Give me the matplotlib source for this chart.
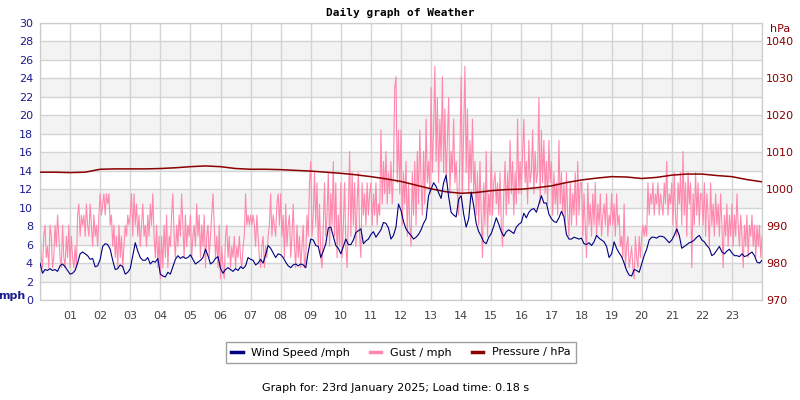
import numpy as np
import matplotlib
matplotlib.use('Agg')
from matplotlib import pyplot as plt
from matplotlib.lines import Line2D

# wind speed, mph, every 5 minutes from 00:00 to 24:00 (one row per hour)
wind = [4.0, 2.9, 3.3, 3.2, 3.4, 3.2, 3.3, 3.1, 3.7, 3.9, 3.6, 3.2,
        2.8, 2.9, 3.2, 4.0, 5.0, 5.2, 5.0, 4.8, 4.4, 4.5, 3.6, 3.7,
        4.4, 5.8, 6.1, 6.0, 5.5, 4.3, 3.3, 3.4, 3.8, 3.6, 2.8, 3.0,
        3.4, 4.8, 6.2, 5.3, 4.6, 4.3, 4.3, 4.6, 3.9, 4.2, 4.1, 4.5,
        2.8, 2.6, 2.5, 3.0, 2.8, 3.6, 4.4, 4.8, 4.5, 4.7, 4.5, 4.6,
        4.9, 4.4, 3.9, 4.1, 4.3, 4.6, 5.5, 4.8, 3.9, 4.1, 4.5, 4.7,
        3.4, 2.9, 3.3, 3.5, 3.3, 3.1, 3.4, 3.2, 3.6, 3.4, 3.7, 4.6,
        4.4, 4.3, 3.8, 4.0, 4.4, 4.0, 4.9, 5.9, 5.6, 5.1, 4.6, 5.0,
        4.9, 4.6, 4.1, 3.7, 3.5, 3.8, 3.9, 3.7, 3.9, 3.8, 3.5, 5.2,
        6.6, 6.5, 5.9, 5.8, 4.6, 5.3, 6.1, 7.8, 7.9, 6.9, 5.9, 5.6,
        5.0, 5.8, 6.6, 6.0, 6.0, 6.5, 7.3, 7.5, 7.7, 6.1, 6.4, 6.6,
        7.1, 7.4, 6.8, 7.2, 7.6, 8.4, 8.3, 7.8, 6.6, 7.0, 7.9, 10.4,
        9.7, 8.5, 7.7, 7.3, 7.0, 6.6, 6.8, 7.1, 7.6, 8.3, 8.8, 11.3,
        12.0, 12.7, 12.3, 11.6, 11.0, 12.7, 13.5, 11.2, 9.5, 9.2, 9.0, 10.9,
        11.3, 9.3, 7.9, 8.8, 11.7, 10.2, 8.3, 7.4, 6.9, 6.3, 6.1, 6.8,
        7.2, 8.0, 8.9, 8.2, 7.4, 6.9, 7.4, 7.6, 7.4, 7.2, 7.9, 8.2,
        8.4, 9.4, 8.9, 9.5, 9.8, 9.9, 9.5, 10.4, 11.3, 10.5, 10.5, 9.3,
        8.8, 8.5, 8.4, 8.9, 9.6, 9.0, 7.1, 6.6, 6.6, 6.8, 6.7, 6.6,
        6.7, 6.1, 6.0, 6.2, 5.9, 6.3, 7.0, 6.7, 6.5, 6.3, 5.8, 4.6,
        5.0, 6.3, 5.6, 5.1, 4.7, 4.0, 3.2, 2.7, 2.6, 3.3, 3.2, 3.0,
        3.9, 4.8, 5.5, 6.5, 6.8, 6.8, 6.7, 6.9, 6.9, 6.8, 6.5, 6.2,
        6.5, 7.0, 7.7, 7.0, 5.6, 5.8, 6.0, 6.2, 6.3, 6.5, 6.8, 7.0,
        6.5, 6.3, 5.9, 5.6, 4.8, 5.0, 5.4, 5.8, 5.2, 5.0, 5.3, 5.5,
        5.1, 4.8, 4.8, 4.7, 5.0, 4.7, 4.8, 5.0, 5.2, 4.8, 4.1, 4.0,
        4.3]

# gust, mph, every 2.5 minutes (one row per hour)
gust = [8.1, 4.6, 3.5, 6.9, 8.1, 4.6, 5.8, 3.5, 8.1, 6.9, 3.5, 4.6, 8.1, 5.8, 9.2, 6.9, 4.6, 3.5, 8.1, 4.6, 3.5, 6.9, 4.6, 8.1,
        3.5, 6.9, 4.6, 3.5, 5.8, 3.5, 9.2, 10.4, 6.9, 9.2, 8.1, 9.2, 6.9, 10.4, 8.1, 6.9, 10.4, 8.1, 5.8, 9.2, 6.9, 8.1, 5.8, 9.2,
        11.5, 9.2, 10.4, 11.5, 9.2, 11.5, 10.4, 11.5, 8.1, 9.2, 5.8, 8.1, 4.6, 6.9, 3.5, 8.1, 4.6, 6.9, 3.5, 5.8, 8.1, 6.9, 9.2, 8.1,
        9.2, 11.5, 6.9, 11.5, 8.1, 10.4, 6.9, 9.2, 5.8, 8.1, 10.4, 6.9, 8.1, 5.8, 9.2, 6.9, 10.4, 8.1, 11.5, 6.9, 4.6, 8.1, 3.5, 6.9,
        2.3, 6.9, 3.5, 8.1, 4.6, 9.2, 3.5, 6.9, 5.8, 9.2, 11.5, 6.9, 4.6, 8.1, 5.8, 9.2, 6.9, 11.5, 8.1, 4.6, 9.2, 5.8, 8.1, 6.9,
        9.2, 4.6, 6.9, 8.1, 5.8, 10.4, 6.9, 9.2, 4.6, 8.1, 5.8, 9.2, 3.5, 6.9, 8.1, 4.6, 6.9, 9.2, 11.5, 8.1, 4.6, 6.9, 3.5, 8.1,
        2.3, 5.8, 3.5, 2.3, 6.9, 8.1, 4.6, 6.9, 3.5, 5.8, 4.6, 6.9, 3.5, 5.8, 4.6, 6.9, 4.6, 3.5, 5.8, 6.9, 11.5, 8.1, 9.2, 8.1,
        9.2, 8.1, 9.2, 8.1, 5.8, 9.2, 6.9, 4.6, 3.5, 5.8, 6.9, 3.5, 5.8, 4.6, 6.9, 8.1, 11.5, 6.9, 9.2, 8.1, 6.9, 10.4, 11.5, 8.1,
        11.5, 6.9, 9.2, 4.6, 10.4, 5.8, 8.1, 9.2, 4.6, 6.9, 10.4, 5.8, 3.5, 8.1, 4.6, 6.9, 3.5, 5.8, 8.1, 3.5, 4.6, 9.2, 6.9, 12.7,
        15.0, 6.9, 9.2, 13.8, 8.1, 12.7, 5.8, 10.4, 4.6, 3.5, 8.1, 12.7, 6.9, 9.2, 13.8, 5.8, 11.5, 8.1, 15.0, 6.9, 12.7, 4.6, 9.2, 5.8,
        12.7, 4.6, 8.1, 12.7, 5.8, 3.5, 9.2, 16.1, 6.9, 13.8, 8.1, 12.7, 5.8, 10.4, 13.8, 6.9, 4.6, 12.7, 9.2, 11.5, 8.1, 12.7, 9.2, 11.5,
        12.7, 8.1, 11.5, 9.2, 12.7, 8.1, 10.4, 9.2, 18.4, 10.4, 15.0, 11.5, 16.1, 10.4, 13.8, 11.5, 15.0, 10.4, 13.8, 23.0, 24.2, 12.7, 18.4, 11.5,
        18.4, 8.1, 13.8, 10.4, 15.0, 6.9, 12.7, 8.1, 5.8, 13.8, 9.2, 15.0, 8.1, 16.1, 10.4, 18.4, 12.7, 9.2, 16.1, 10.4, 19.6, 12.7, 15.0, 11.5,
        23.0, 13.8, 18.4, 25.3, 15.0, 21.9, 12.7, 19.6, 15.0, 24.2, 13.8, 20.7, 12.7, 17.3, 21.9, 11.5, 16.1, 13.8, 19.6, 12.7, 15.0, 11.5, 9.2, 16.1,
        24.2, 11.5, 18.4, 25.3, 13.8, 20.7, 11.5, 17.3, 12.7, 19.6, 11.5, 15.0, 9.2, 13.8, 8.1, 15.0, 9.2, 4.6, 12.7, 8.1, 16.1, 6.9, 11.5, 9.2,
        16.1, 9.2, 12.7, 13.8, 10.4, 12.7, 9.2, 13.8, 8.1, 5.8, 11.5, 15.0, 9.2, 13.8, 10.4, 17.3, 11.5, 15.0, 9.2, 13.8, 10.4, 19.6, 11.5, 15.0,
        11.5, 16.1, 19.6, 12.7, 15.0, 10.4, 17.3, 12.7, 13.8, 18.4, 11.5, 16.1, 12.7, 13.8, 21.9, 10.4, 18.4, 12.7, 17.3, 11.5, 15.0, 10.4, 17.3, 12.7,
        15.0, 9.2, 13.8, 10.4, 12.7, 9.2, 17.3, 10.4, 13.8, 9.2, 12.7, 8.1, 13.8, 9.2, 6.9, 12.7, 8.1, 11.5, 9.2, 13.8, 8.1, 15.0, 9.2, 12.7,
        12.7, 6.9, 11.5, 8.1, 4.6, 12.7, 8.1, 10.4, 6.9, 11.5, 8.1, 12.7, 6.9, 10.4, 8.1, 11.5, 6.9, 9.2, 10.4, 8.1, 11.5, 6.9, 9.2, 8.1,
        11.5, 8.1, 10.4, 6.9, 11.5, 8.1, 9.2, 5.8, 6.9, 4.6, 10.4, 3.5, 5.8, 6.9, 3.5, 4.6, 5.8, 3.5, 2.3, 6.9, 4.6, 3.5, 6.9, 4.6,
        6.9, 8.1, 6.9, 8.1, 6.9, 12.7, 9.2, 11.5, 10.4, 12.7, 9.2, 11.5, 10.4, 12.7, 9.2, 11.5, 10.4, 9.2, 12.7, 10.4, 15.0, 9.2, 11.5, 10.4,
        12.7, 8.1, 13.8, 9.2, 6.9, 12.7, 10.4, 13.8, 8.1, 16.1, 9.2, 12.7, 6.9, 13.8, 10.4, 12.7, 3.5, 11.5, 8.1, 13.8, 9.2, 12.7, 8.1, 11.5,
        11.5, 8.1, 12.7, 6.9, 11.5, 9.2, 5.8, 12.7, 8.1, 10.4, 6.9, 11.5, 8.1, 10.4, 6.9, 11.5, 8.1, 3.5, 9.2, 6.9, 10.4, 5.8, 9.2, 6.9,
        10.4, 5.8, 9.2, 6.9, 11.5, 8.1, 5.8, 9.2, 6.9, 3.5, 8.1, 5.8, 9.2, 4.6, 8.1, 6.9, 9.2, 5.8, 8.1, 4.6, 8.1, 5.8, 8.1, 4.6,
        6.9]

# pressure, hPa, every 30 minutes
pressure = [1004.6, 1004.6, 1004.5, 1004.6, 1005.4, 1005.5, 1005.5, 1005.5,
            1005.6, 1005.8, 1006.1, 1006.3, 1006.1, 1005.6, 1005.4, 1005.4,
            1005.3, 1005.1, 1004.9, 1004.6, 1004.3, 1003.9, 1003.4, 1002.8,
            1002.1, 1001.1, 1000.1, 999.3, 998.9, 999.1, 999.6, 999.9,
            1000.0, 1000.4, 1000.9, 1001.8, 1002.5, 1003.0, 1003.4, 1003.3,
            1002.9, 1003.2, 1003.8, 1004.1, 1004.1, 1003.7, 1003.4, 1002.6,
            1002.0]

hour_labels = ['%02d' % h for h in range(1, 24)]

t_wind = np.linspace(0, 24, len(wind))
t_gust = np.linspace(0, 24, len(gust))
t_pres = np.linspace(0, 24, len(pressure))

fig = plt.figure(figsize=(8, 4), dpi=100)
ax = fig.add_axes([40/800, 100/400, 722/800, 277/400])
ax2 = ax.twinx()
ax.set_zorder(ax2.get_zorder() + 1)
ax.patch.set_visible(False)

ax.set_xlim(0, 24)
ax.set_ylim(0, 30)
ax2.set_ylim(970, 1045)

# striped background
for lo in range(2, 30, 4):
    ax.axhspan(lo, lo + 2, color='#f3f3f3', zorder=0, lw=0)
for y in range(0, 31, 2):
    ax.axhline(y, color='#d4d4d4', lw=1, zorder=0.5)
for h in range(0, 25):
    ax.axvline(h, color='#d4d4d4', lw=1, zorder=0.5)

ax.plot(t_gust, gust, color='#ff88ac', lw=0.8, zorder=2)
ax.plot(t_pres, pressure, color='#8b0000', lw=1.1, zorder=3, transform=ax2.transData)
ax.plot(t_wind, wind, color='#000080', lw=0.8, zorder=4)

ax.set_xticks(range(1, 24))
ax.set_xticklabels(hour_labels, color='#444444', fontsize=8)
ax.set_yticks(range(0, 31, 2))
ax.tick_params(axis='y', colors='#1c1c8c', labelsize=8, length=0, pad=5)
ax.tick_params(axis='x', length=0, pad=8)
ax2.set_yticks(range(970, 1041, 10))
ax2.tick_params(axis='y', colors='#8b0000', labelsize=8, length=0, pad=3)
for a in (ax, ax2):
    for s in a.spines.values():
        s.set_color('#cccccc')

fig.text(400/800, 1 - 13/400, 'Daily graph of Weather', ha='center', va='center',
         fontsize=8, family='DejaVu Sans Mono', weight='bold')
fig.text(12/800, 1 - 296/400, 'mph', ha='center', va='center', fontsize=8,
         weight='bold', color='#1c1c8c')
fig.text(780/800, 1 - 29/400, 'hPa', ha='center', va='center', fontsize=8,
         color='#8b0000')

handles = [Line2D([], [], color='#000080', lw=2.5),
           Line2D([], [], color='#ff88ac', lw=2.5),
           Line2D([], [], color='#8b0000', lw=2.5)]
leg = fig.legend(handles, ['Wind Speed /mph', 'Gust / mph', 'Pressure / hPa'],
                 loc='center', bbox_to_anchor=(401/800, 1 - 352.5/400), ncol=3,
                 fontsize=8, frameon=True, fancybox=False, handlelength=1.0,
                 handletextpad=0.8, columnspacing=1.8, borderpad=0.5)
leg.get_frame().set_edgecolor('#888888')
leg.get_frame().set_linewidth(1)

fig.text(396/800, 1 - 388/400, 'Graph for: 23rd January 2025; Load time: 0.18 s',
         ha='center', va='center', fontsize=8)

fig.savefig('out.png', dpi=100)
